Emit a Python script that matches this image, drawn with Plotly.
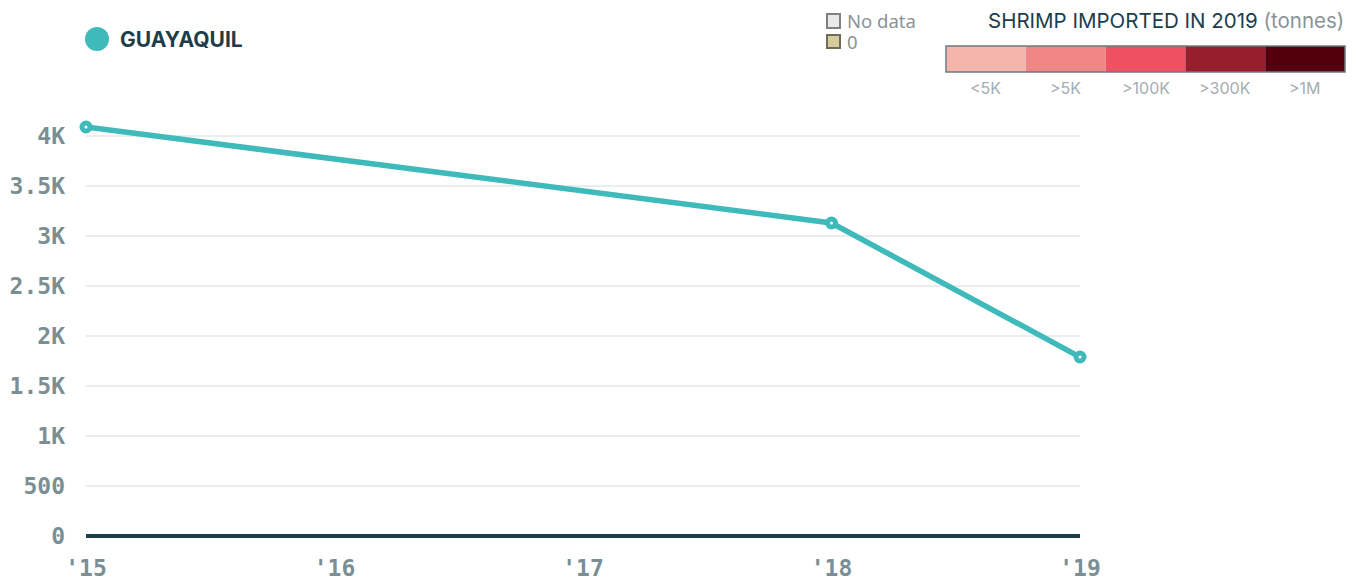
import plotly.graph_objects as go

years = [2015, 2018, 2019]
values = [4090, 3130, 1790]
x_ticks = [2015, 2016, 2017, 2018, 2019]
x_labels = ["'15", "'16", "'17", "'18", "'19"]
y_ticks = [0, 500, 1000, 1500, 2000, 2500, 3000, 3500, 4000]
y_labels = ["0", "500", "1K", "1.5K", "2K", "2.5K", "3K", "3.5K", "4K"]
scale_labels = ["<5K", ">5K", ">100K", ">300K", ">1M"]
scale_colors = ["#f4b5ad", "#f08686", "#ef5062", "#951f2d", "#54000c"]

TEAL = "#3fbabb"
DARK = "#1e3d4a"
GRAY = "#7a8f94"

OFF = 8  # page body margin
W, H = 1364 - 2 * OFF, 586 - 2 * OFF
L, R, T, B = 86 - OFF, 1080 - OFF, 116 - OFF, 536 - OFF


def px(x):
    return (x - OFF - L) / (R - L)


def py(y):
    return (B - (y - OFF)) / (B - T)


fig = go.Figure()
fig.add_trace(go.Scatter(x=years, y=values, mode="lines+markers",
                         line=dict(color=TEAL, width=5.5),
                         marker=dict(color=TEAL, size=13), showlegend=False,
                         cliponaxis=False))
fig.add_trace(go.Scatter(x=years, y=values, mode="markers",
                         marker=dict(color="white", size=3), showlegend=False,
                         cliponaxis=False))

shapes = []
annotations = []

# series legend
shapes.append(dict(type="circle", xref="paper", yref="paper",
                   x0=px(85), x1=px(109), y0=py(51), y1=py(27),
                   fillcolor=TEAL, line=dict(width=0)))
annotations.append(dict(xref="paper", yref="paper", x=px(118), y=py(39),
                        text="<b>GUAYAQUIL</b>", showarrow=False,
                        xanchor="left", yanchor="middle",
                        font=dict(family="Inter", size=21, color=DARK)))

# No data / 0 legend
shapes.append(dict(type="rect", xref="paper", yref="paper",
                   x0=px(827), x1=px(840), y0=py(28), y1=py(14),
                   fillcolor="#e9e9e9", line=dict(color="#808080", width=2)))
shapes.append(dict(type="rect", xref="paper", yref="paper",
                   x0=px(827), x1=px(840), y0=py(48), y1=py(35),
                   fillcolor="#d8cc9f", line=dict(color="#6f6d55", width=2)))
annotations.append(dict(xref="paper", yref="paper", x=px(845), y=py(21),
                        text="No data", showarrow=False, xanchor="left", yanchor="middle",
                        font=dict(family="Noto Sans", size=18.5, color="#8a9396")))
annotations.append(dict(xref="paper", yref="paper", x=px(845), y=py(42),
                        text="0", showarrow=False, xanchor="left", yanchor="middle",
                        font=dict(family="Noto Sans", size=18.5, color="#8a9396")))

# color scale
x0s = 946
seg = (1345 - 946) / 5
for i, (c, lab) in enumerate(zip(scale_colors, scale_labels)):
    shapes.append(dict(type="rect", xref="paper", yref="paper",
                       x0=px(x0s + i * seg), x1=px(x0s + (i + 1) * seg),
                       y0=py(72), y1=py(46), fillcolor=c, line=dict(width=0)))
    annotations.append(dict(xref="paper", yref="paper", x=px(x0s + (i + 0.5) * seg), y=py(88),
                            text=lab, showarrow=False, xanchor="center", yanchor="middle",
                            font=dict(family="Inter", size=16, color="#a4adb0")))
shapes.append(dict(type="rect", xref="paper", yref="paper",
                   x0=px(946), x1=px(1345), y0=py(72), y1=py(46),
                   fillcolor="rgba(0,0,0,0)", line=dict(color="#6b7b82", width=1.5)))
annotations.append(dict(xref="paper", yref="paper", x=px(1346), y=py(21),
                        text="SHRIMP IMPORTED IN 2019 <span style='color:#8a9396'>(tonnes)</span>",
                        showarrow=False, xanchor="right", yanchor="middle",
                        font=dict(family="Inter", size=20.5, color=DARK)))

fig.update_layout(
    width=W, height=H,
    margin=dict(l=L, r=W - R, t=T, b=H - B, autoexpand=False),
    paper_bgcolor="white", plot_bgcolor="white",
    shapes=shapes, annotations=annotations,
    xaxis=dict(range=[2015, 2019], tickvals=x_ticks, ticktext=x_labels,
               showgrid=False, zeroline=False, showline=False, ticks="",
               ticklabelstandoff=16, automargin=False,
               tickfont=dict(family="DejaVu Sans Mono", size=23, color=GRAY, weight="bold")),
    yaxis=dict(range=[0, 4200], tickvals=y_ticks, ticktext=y_labels,
               showgrid=True, gridcolor="#e8edee", gridwidth=2,
               zeroline=True, zerolinecolor=DARK, zerolinewidth=4,
               showline=False, ticks="", ticklabelstandoff=20, automargin=False,
               tickfont=dict(family="DejaVu Sans Mono", size=23, color=GRAY, weight="bold")),
)
fig.write_html("out.html")
